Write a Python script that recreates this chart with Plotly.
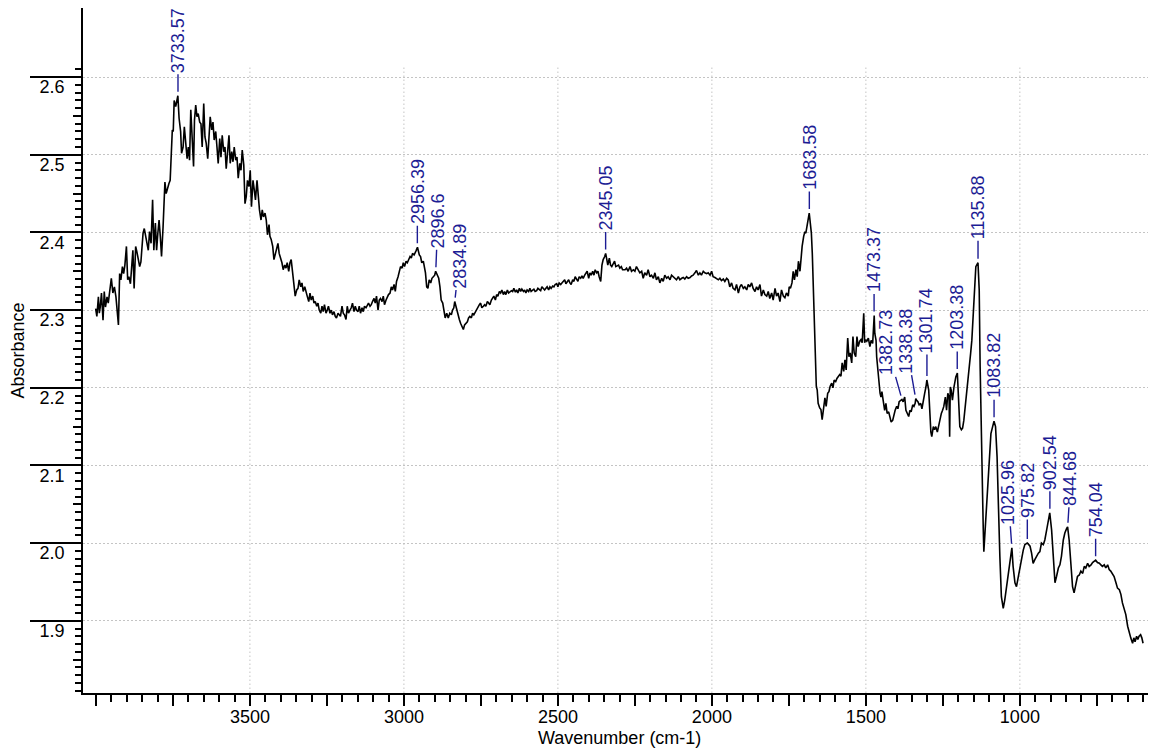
import plotly.graph_objects as go

# ---------------- data ----------------
wn_a = [4001, 3997, 3992, 3989, 3986, 3982, 3977, 3973, 3969, 3964, 3960, 3954, 3950, 3945, 3940, 3935,
        3927, 3923, 3919, 3914, 3910, 3906, 3901, 3897, 3893, 3888, 3884, 3880, 3876, 3871, 3867, 3862,
        3858, 3854, 3847, 3843, 3839, 3834, 3830, 3826, 3821, 3816, 3812, 3807, 3803, 3799, 3795, 3791,
        3787, 3782, 3778, 3776, 3772, 3767, 3763, 3759, 3756, 3752, 3749, 3746, 3741, 3738, 3734, 3730,
        3725, 3722, 3717, 3713, 3709, 3704, 3700, 3696, 3692, 3687, 3683, 3680, 3676, 3672, 3668, 3663,
        3659, 3655, 3650, 3646, 3642, 3637, 3633, 3629, 3624, 3620, 3616, 3611, 3607, 3603, 3598, 3594,
        3590, 3585, 3581, 3577, 3572, 3568, 3564, 3559, 3555, 3551, 3546, 3542, 3538, 3533, 3529, 3525,
        3520, 3516, 3512, 3508, 3503, 3499, 3495, 3490, 3486, 3482, 3477, 3473, 3469, 3464, 3460, 3456,
        3451, 3447, 3443, 3438]
ab_a = [2.302, 2.292, 2.317, 2.296, 2.304, 2.322, 2.287, 2.324, 2.304, 2.317, 2.309, 2.326, 2.341, 2.322, 2.330, 2.317,
        2.281, 2.347, 2.339, 2.356, 2.347, 2.358, 2.382, 2.339, 2.343, 2.334, 2.364, 2.377, 2.328, 2.382, 2.375, 2.364,
        2.356, 2.362, 2.399, 2.405, 2.395, 2.388, 2.377, 2.401, 2.386, 2.442, 2.377, 2.412, 2.377, 2.399, 2.416, 2.395,
        2.369, 2.407, 2.442, 2.465, 2.450, 2.459, 2.463, 2.467, 2.489, 2.532, 2.530, 2.570, 2.562, 2.570, 2.576, 2.547,
        2.530, 2.502, 2.510, 2.536, 2.519, 2.495, 2.510, 2.493, 2.558, 2.515, 2.485, 2.545, 2.564, 2.549, 2.553, 2.542,
        2.540, 2.510, 2.566, 2.523, 2.515, 2.495, 2.532, 2.549, 2.532, 2.542, 2.519, 2.530, 2.510, 2.489, 2.521, 2.497,
        2.525, 2.504, 2.510, 2.482, 2.506, 2.525, 2.489, 2.504, 2.491, 2.510, 2.493, 2.497, 2.470, 2.489, 2.480, 2.506,
        2.487, 2.437, 2.446, 2.467, 2.459, 2.480, 2.433, 2.467, 2.455, 2.442, 2.467, 2.442, 2.429, 2.416, 2.429, 2.420,
        2.425, 2.416, 2.397, 2.410]

wn_b = [3435, 3431, 3426, 3422, 3418, 3413, 3409, 3405, 3400, 3396, 3392, 3387, 3383, 3379, 3374, 3370,
        3366, 3361, 3357, 3353, 3348, 3344, 3340, 3335, 3331, 3327, 3322, 3318, 3314, 3309, 3305, 3301,
        3296, 3292, 3288, 3283, 3279, 3275, 3270, 3266, 3262, 3258, 3253, 3249, 3245, 3240, 3236, 3232,
        3227, 3223, 3219, 3214, 3210, 3206, 3201, 3197, 3193, 3188, 3184, 3180, 3175, 3171, 3167, 3162,
        3158, 3154, 3149, 3145, 3141, 3136, 3132, 3128, 3123, 3119, 3115, 3110, 3106, 3102, 3097, 3093,
        3089, 3084, 3080, 3076, 3071, 3067, 3063, 3058, 3054, 3050, 3045, 3041, 3037, 3032, 3028, 3024,
        3019, 3015, 3011, 3006, 3002, 2998, 2993, 2989, 2985, 2980, 2976, 2972, 2967, 2963, 2960, 2956,
        2954, 2950, 2946, 2942, 2937, 2933, 2930, 2926, 2922, 2918, 2913, 2909, 2905, 2900, 2897, 2892,
        2887, 2883, 2879, 2874, 2870, 2866, 2861, 2856]
ab_b = [2.395, 2.391, 2.382, 2.365, 2.371, 2.382, 2.386, 2.373, 2.367, 2.361, 2.352, 2.358, 2.354, 2.361, 2.350, 2.361,
        2.365, 2.348, 2.330, 2.318, 2.326, 2.328, 2.339, 2.330, 2.335, 2.324, 2.330, 2.322, 2.318, 2.311, 2.322, 2.313,
        2.318, 2.309, 2.311, 2.305, 2.309, 2.300, 2.296, 2.305, 2.298, 2.307, 2.296, 2.300, 2.305, 2.296, 2.300, 2.294,
        2.298, 2.292, 2.290, 2.296, 2.294, 2.292, 2.305, 2.296, 2.294, 2.288, 2.305, 2.296, 2.300, 2.303, 2.309, 2.298,
        2.305, 2.300, 2.298, 2.305, 2.296, 2.303, 2.298, 2.305, 2.303, 2.307, 2.309, 2.305, 2.307, 2.311, 2.315, 2.309,
        2.318, 2.300, 2.313, 2.315, 2.311, 2.318, 2.307, 2.313, 2.318, 2.320, 2.322, 2.330, 2.326, 2.333, 2.324, 2.337,
        2.343, 2.348, 2.356, 2.354, 2.361, 2.356, 2.363, 2.361, 2.365, 2.369, 2.367, 2.373, 2.371, 2.376, 2.377, 2.381,
        2.376, 2.371, 2.369, 2.361, 2.363, 2.356, 2.348, 2.330, 2.328, 2.339, 2.335, 2.341, 2.343, 2.345, 2.350, 2.345,
        2.341, 2.330, 2.313, 2.309, 2.300, 2.290, 2.296, 2.290]

wn_c = [2851, 2846, 2842, 2838, 2835, 2829, 2825, 2820, 2816, 2812, 2807, 2803, 2799, 2794, 2790, 2786,
        2781, 2777, 2773, 2768, 2764, 2760, 2755, 2751, 2747, 2742, 2738, 2734, 2729, 2725, 2721, 2716,
        2712, 2708, 2703, 2699, 2695, 2690, 2686, 2682, 2677, 2673, 2669, 2664, 2660, 2656, 2651, 2647,
        2643, 2638, 2634, 2630, 2625, 2621, 2617, 2612, 2608, 2604, 2600, 2595, 2591, 2587, 2582, 2578,
        2574, 2569, 2565, 2561, 2556, 2552, 2548, 2543, 2539, 2535, 2530, 2526, 2522, 2517, 2513, 2509,
        2504, 2500, 2496, 2491, 2487, 2483, 2478, 2474, 2470, 2465, 2461, 2457, 2452, 2448, 2444, 2439,
        2435, 2431, 2426, 2422, 2418, 2413, 2409, 2405, 2400, 2396, 2392, 2387, 2383, 2379, 2374, 2370,
        2366, 2361, 2357, 2353, 2348, 2345, 2342, 2338, 2333, 2329, 2325, 2320, 2316, 2312, 2307, 2303,
        2299, 2294, 2290]
ab_c = [2.296, 2.294, 2.300, 2.303, 2.311, 2.300, 2.296, 2.288, 2.283, 2.279, 2.275, 2.281, 2.283, 2.285, 2.290, 2.292,
        2.290, 2.296, 2.294, 2.298, 2.300, 2.303, 2.307, 2.309, 2.303, 2.305, 2.307, 2.305, 2.311, 2.309, 2.307, 2.313,
        2.315, 2.318, 2.313, 2.320, 2.318, 2.324, 2.322, 2.326, 2.320, 2.324, 2.320, 2.326, 2.322, 2.324, 2.325, 2.324,
        2.328, 2.323, 2.326, 2.322, 2.328, 2.324, 2.327, 2.324, 2.326, 2.322, 2.326, 2.324, 2.328, 2.324, 2.326, 2.327,
        2.324, 2.325, 2.328, 2.326, 2.325, 2.330, 2.328, 2.326, 2.328, 2.330, 2.326, 2.330, 2.328, 2.331, 2.330, 2.333,
        2.334, 2.330, 2.335, 2.333, 2.335, 2.337, 2.339, 2.334, 2.337, 2.339, 2.335, 2.333, 2.339, 2.337, 2.343, 2.339,
        2.337, 2.343, 2.341, 2.344, 2.341, 2.345, 2.348, 2.350, 2.341, 2.348, 2.345, 2.350, 2.345, 2.352, 2.348, 2.350,
        2.343, 2.337, 2.358, 2.365, 2.369, 2.373, 2.367, 2.358, 2.367, 2.358, 2.356, 2.360, 2.363, 2.356, 2.357, 2.358,
        2.354, 2.356, 2.352]

wn_d = [2282, 2277, 2272, 2266, 2261, 2255, 2250, 2245, 2239, 2234, 2228, 2223, 2218, 2212, 2207, 2201,
        2196, 2190, 2185, 2180, 2174, 2169, 2163, 2158, 2153, 2147, 2142, 2136, 2131, 2126, 2120, 2115,
        2109, 2104, 2098, 2093, 2088, 2082, 2077, 2071, 2066, 2061, 2055, 2050, 2044, 2039, 2034, 2028,
        2023, 2017, 2012, 2006, 2001, 1996, 1990, 1985, 1979, 1974, 1969, 1963, 1958, 1952, 1947, 1942,
        1936, 1931, 1925, 1920, 1914, 1909, 1904, 1898, 1893, 1887, 1882, 1877, 1871, 1866, 1860, 1855,
        1850, 1844, 1839, 1833, 1828, 1822, 1817, 1812, 1806, 1801, 1795, 1790, 1785, 1779, 1774, 1768,
        1763, 1758, 1752, 1749, 1745, 1740, 1736, 1732, 1727, 1723, 1719, 1714, 1711, 1707, 1702, 1698,
        1695, 1691, 1687, 1684, 1681, 1677, 1674, 1671, 1668, 1664, 1661, 1658, 1655, 1650, 1646, 1642,
        1637, 1633, 1629, 1624, 1620, 1616, 1611, 1607, 1603, 1598, 1594, 1590, 1585, 1581, 1577, 1572,
        1568, 1564, 1559, 1555, 1551, 1546, 1542, 1538, 1533, 1529, 1525, 1520, 1516, 1512, 1507, 1504,
        1501, 1497, 1492]
ab_d = [2.352, 2.354, 2.350, 2.356, 2.350, 2.352, 2.350, 2.356, 2.352, 2.348, 2.350, 2.341, 2.348, 2.345, 2.352, 2.343,
        2.345, 2.341, 2.348, 2.339, 2.343, 2.335, 2.341, 2.337, 2.345, 2.341, 2.343, 2.339, 2.345, 2.343, 2.341, 2.339,
        2.343, 2.339, 2.341, 2.342, 2.340, 2.343, 2.341, 2.342, 2.344, 2.345, 2.348, 2.351, 2.345, 2.348, 2.345, 2.350,
        2.348, 2.347, 2.348, 2.345, 2.350, 2.343, 2.342, 2.341, 2.339, 2.341, 2.338, 2.340, 2.337, 2.341, 2.339, 2.330,
        2.335, 2.328, 2.326, 2.333, 2.322, 2.330, 2.333, 2.328, 2.330, 2.326, 2.333, 2.330, 2.335, 2.328, 2.324, 2.330,
        2.326, 2.333, 2.318, 2.326, 2.320, 2.318, 2.324, 2.315, 2.322, 2.313, 2.328, 2.318, 2.322, 2.311, 2.326, 2.318,
        2.316, 2.322, 2.318, 2.330, 2.328, 2.335, 2.350, 2.339, 2.352, 2.343, 2.363, 2.350, 2.365, 2.382, 2.395, 2.401,
        2.399, 2.410, 2.416, 2.425, 2.414, 2.399, 2.373, 2.339, 2.296, 2.249, 2.202, 2.197, 2.180, 2.174, 2.172, 2.159,
        2.180, 2.187, 2.176, 2.193, 2.195, 2.202, 2.206, 2.200, 2.210, 2.208, 2.212, 2.215, 2.217, 2.215, 2.232, 2.221,
        2.236, 2.223, 2.264, 2.240, 2.245, 2.232, 2.266, 2.245, 2.240, 2.266, 2.253, 2.260, 2.262, 2.258, 2.296, 2.258,
        2.262, 2.260, 2.264]

wn_e = [1487, 1483, 1478, 1473, 1471, 1467, 1465, 1462, 1459, 1457, 1454, 1451, 1448, 1444, 1439, 1435,
        1431, 1426, 1422, 1418, 1413, 1409, 1405, 1400, 1396, 1392, 1387, 1383, 1379, 1374, 1370, 1366,
        1361, 1357, 1353, 1348, 1344, 1340, 1338, 1335, 1331, 1327, 1322, 1318, 1314, 1309, 1305, 1302,
        1296, 1292, 1289, 1286, 1281, 1277, 1273, 1268, 1264, 1260, 1255, 1251, 1247, 1242, 1238, 1234,
        1230, 1228, 1226, 1223, 1219, 1214, 1210, 1208, 1203, 1201, 1198, 1195, 1190, 1186, 1182, 1177,
        1173, 1169, 1164, 1160, 1156, 1151, 1147, 1143, 1136, 1132, 1129, 1125, 1121, 1119, 1117, 1113,
        1107, 1100, 1094, 1084, 1079, 1074, 1070, 1065, 1060]
ab_e = [2.253, 2.261, 2.257, 2.293, 2.270, 2.261, 2.240, 2.227, 2.214, 2.201, 2.193, 2.188, 2.195, 2.184, 2.171, 2.180,
        2.167, 2.169, 2.163, 2.156, 2.158, 2.167, 2.171, 2.176, 2.173, 2.182, 2.184, 2.185, 2.182, 2.188, 2.171, 2.167,
        2.163, 2.171, 2.169, 2.178, 2.176, 2.180, 2.186, 2.184, 2.182, 2.178, 2.180, 2.173, 2.184, 2.193, 2.201, 2.210,
        2.197, 2.163, 2.143, 2.137, 2.150, 2.146, 2.150, 2.143, 2.152, 2.158, 2.167, 2.171, 2.176, 2.188, 2.171, 2.193,
        2.188, 2.137, 2.201, 2.197, 2.184, 2.201, 2.210, 2.214, 2.219, 2.201, 2.176, 2.150, 2.146, 2.148, 2.158, 2.176,
        2.197, 2.210, 2.227, 2.244, 2.261, 2.304, 2.339, 2.356, 2.361, 2.326, 2.227, 2.120, 2.060, 2.020, 1.989, 2.017,
        2.060, 2.111, 2.141, 2.157, 2.150, 2.111, 2.043, 1.983, 1.931]

wn_f = [1054, 1049, 1043, 1038, 1032, 1026, 1022, 1016, 1011, 1005, 1000, 995, 989, 984, 976, 973,
        967, 962, 957, 951, 946, 940, 935, 930, 924, 919, 913, 908, 903, 897, 892, 886,
        881, 875, 870, 865, 859, 854, 848, 845, 840, 834, 829, 824, 818, 813, 807, 802,
        796, 791, 786, 780, 775, 769, 764, 759, 754, 748, 742, 737, 732, 726, 721, 715,
        710, 705, 699, 694, 688, 683, 677, 672, 667, 661, 656, 650, 645, 640, 634, 630,
        626, 621, 617, 613, 608, 604, 600]
ab_f = [1.916, 1.927, 1.944, 1.961, 1.979, 1.994, 1.970, 1.949, 1.944, 1.957, 1.970, 1.983, 1.991, 1.998, 2.000, 1.999,
        1.996, 1.987, 1.974, 1.979, 1.983, 1.987, 1.989, 2.000, 1.998, 2.004, 2.017, 2.030, 2.039, 2.017, 1.979, 1.949,
        1.957, 1.968, 1.972, 1.983, 2.004, 2.013, 2.019, 2.021, 2.004, 1.970, 1.944, 1.936, 1.949, 1.957, 1.959, 1.964,
        1.961, 1.970, 1.968, 1.974, 1.970, 1.972, 1.975, 1.976, 1.978, 1.975, 1.974, 1.972, 1.970, 1.972, 1.968, 1.972,
        1.966, 1.964, 1.961, 1.957, 1.949, 1.942, 1.940, 1.934, 1.923, 1.914, 1.908, 1.893, 1.884, 1.878, 1.871, 1.878,
        1.873, 1.880, 1.876, 1.880, 1.882, 1.878, 1.871]

wavenumber = wn_a + wn_b + wn_c + wn_d + wn_e + wn_f
absorbance = ab_a + ab_b + ab_c + ab_d + ab_e + ab_f

peak_labels = [3733.57, 2956.39, 2896.6, 2834.89, 2345.05, 1683.58, 1473.37, 1382.73, 1338.38,
               1301.74, 1203.38, 1135.88, 1083.82, 1025.96, 975.82, 902.54, 844.68, 754.04]

x_tick_values = [4000, 3750, 3500, 3250, 3000, 2750, 2500, 2250, 2000, 1750, 1500, 1250, 1000, 750]
x_tick_text = ["", "", "3500", "", "3000", "", "2500", "", "2000", "", "1500", "", "1000", ""]
x_grid_values = [3500, 3000, 2500, 2000, 1500, 1000]

# ---------------- styling / layout ----------------
FONT = "Liberation Sans, Arial, sans-serif"
FS = 18
NAVY = "#1c1c94"
GRID = "#c4c4c4"
X_RANGE = [4042, 558]
Y_RANGE = [1.807, 2.689]
GRID_TOP = 2.615

# label offsets in pixels: (horizontal shift of text, gap between peak and text start)
label_offsets = {
    2896.6: (2, 22), 2834.89: (5, 12), 1382.73: (-16, 23), 1338.38: (-10, 24),
    1301.74: (0, 26), 1025.96: (-4, 22), 844.68: (3, 20), 975.82: (0, 24),
}


def peak_height(w):
    best = None
    for xv, yv in zip(wavenumber, absorbance):
        if abs(xv - w) <= 4 and (best is None or yv > best):
            best = yv
    return best


def text_len(s):
    return sum(0.556 if c.isdigit() else 0.278 for c in s) * FS + 2


fig = go.Figure()
fig.add_trace(go.Scatter(x=wavenumber, y=absorbance, mode="lines",
                         line=dict(color="black", width=1.6), hoverinfo="skip", showlegend=False))
fig.add_trace(go.Scatter(x=[None], y=[None], yaxis="y2", showlegend=False, hoverinfo="skip"))

for v in x_grid_values:
    fig.add_shape(type="line", xref="x", yref="y", x0=v, x1=v, y0=Y_RANGE[0], y1=GRID_TOP,
                  line=dict(color=GRID, width=1, dash="1.5px,2.5px"), layer="below")

for w in peak_labels:
    txt = f"{w:g}"
    dx, gap = label_offsets.get(w, (0, 22))
    fig.add_annotation(x=w, y=peak_height(w), xref="x", yref="y", text=txt, textangle=-90,
                       showarrow=True, arrowhead=0, arrowwidth=1.4, arrowcolor=NAVY, standoff=4,
                       ax=dx, ay=-(gap + text_len(txt) / 2), borderpad=1,
                       font=dict(family=FONT, size=FS, color=NAVY))

# axis titles (placed in paper coordinates)
fig.add_annotation(text="Wavenumber (cm-1)", xref="paper", yref="paper", x=0.5, y=-0.066,
                   xanchor="center", yanchor="middle", showarrow=False,
                   font=dict(family=FONT, size=FS, color="black"))
fig.add_annotation(text="Absorbance", xref="paper", yref="paper", x=-0.0615, y=0.5,
                   xanchor="center", yanchor="middle", showarrow=False, textangle=-90,
                   font=dict(family=FONT, size=FS, color="black"))

minor_y = [round(1.81 + 0.01 * i, 2) for i in range(81)]
medium_y = [1.85, 1.95, 2.05, 2.15, 2.25, 2.35, 2.45, 2.55]

# the page body adds an 8px offset, so the figure is 8px smaller and margins are shifted
fig.update_layout(
    width=1148, height=743,
    margin=dict(l=75, r=0, t=0, b=58, autoexpand=False),
    paper_bgcolor="white", plot_bgcolor="white",
    font=dict(family=FONT, size=FS, color="black"),
    showlegend=False,
    xaxis=dict(
        range=X_RANGE, autorange=False, automargin=False,
        tickmode="array", tickvals=x_tick_values, ticktext=x_tick_text,
        ticks="outside", ticklen=11, tickwidth=1.8, tickcolor="black",
        ticklabelstandoff=-5,
        minor=dict(tickmode="linear", tick0=0, dtick=50, ticks="outside", ticklen=7,
                   tickwidth=1.5, tickcolor="black", showgrid=False),
        showgrid=False, zeroline=False,
        showline=True, linecolor="black", linewidth=2,
        tickfont=dict(family=FONT, size=FS, color="black"),
    ),
    yaxis=dict(
        range=Y_RANGE, autorange=False, automargin=False,
        tickmode="linear", tick0=0, dtick=0.1, tickformat=".1f",
        ticks="outside", ticklen=51, tickwidth=1.8, tickcolor="black",
        ticklabelstandoff=-38, ticklabelshift=10,
        minor=dict(tickmode="array", tickvals=minor_y, ticks="outside", ticklen=6,
                   tickwidth=1.5, tickcolor="black", showgrid=False),
        showgrid=True, gridcolor=GRID, gridwidth=1, griddash="1.5px,2.5px",
        zeroline=False, showline=True, linecolor="black", linewidth=2,
        tickfont=dict(family=FONT, size=FS, color="black"),
    ),
    yaxis2=dict(
        range=Y_RANGE, autorange=False, overlaying="y", anchor="x", side="left", automargin=False,
        tickmode="array", tickvals=medium_y, ticks="outside", ticklen=9, tickwidth=1.5,
        tickcolor="black", showticklabels=False, showgrid=False, zeroline=False, showline=False,
    ),
)

fig.write_html("out.html")
